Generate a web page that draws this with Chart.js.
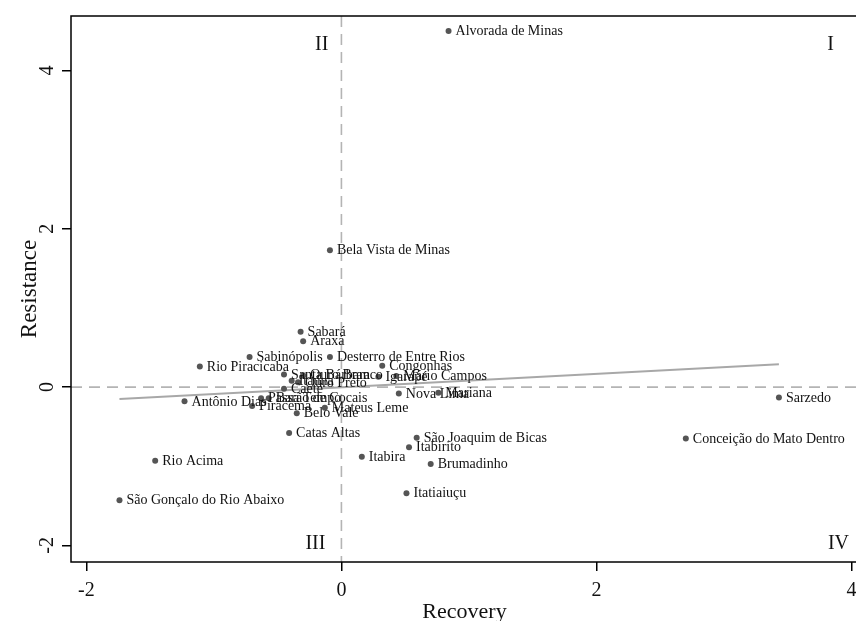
<!DOCTYPE html>
<html>
<head>
<meta charset="utf-8">
<script src="https://cdn.jsdelivr.net/npm/chart.js@4.4.1/dist/chart.umd.min.js"></script>
<style>
html,body{margin:0;padding:0;background:#fff;overflow:hidden;}
#wrap{width:870px;height:621px;}
</style>
</head>
<body>
<div id="wrap"><canvas id="c" width="870" height="621"></canvas></div>
<script>
const municipalities = [
  "Alvorada de Minas","Bela Vista de Minas","Sabará","Araxá","Sabinópolis",
  "Desterro de Entre Rios","Rio Piracicaba","Congonhas","Igarapé","Mário Campos",
  "Santa Bárbara","Ouro Branco","Ouro Preto","Itaúna","Caeté",
  "Nova Lima","Mariana","Antônio Dias","Passa Tempo","Barão de Cocais",
  "Piracema","Belo Vale","Mateus Leme","Catas Altas","São Joaquim de Bicas",
  "Itabirito","Itabira","Brumadinho","Itatiaiuçu","Sarzedo",
  "Conceição do Mato Dentro","Rio Acima","São Gonçalo do Rio Abaixo"
];
const recovery = [
  0.84,-0.09,-0.32,-0.30,-0.72,
  -0.09,-1.11,0.32,0.29,0.43,
  -0.45,-0.30,-0.34,-0.39,-0.45,
  0.45,0.76,-1.23,-0.63,-0.57,
  -0.70,-0.35,-0.13,-0.41,0.59,
  0.53,0.16,0.70,0.51,3.43,
  2.70,-1.46,-1.74
];
const resistance = [
  4.50,1.73,0.70,0.58,0.38,
  0.38,0.26,0.27,0.13,0.14,
  0.16,0.15,0.06,0.08,-0.02,
  -0.08,-0.07,-0.18,-0.14,-0.14,
  -0.24,-0.33,-0.26,-0.58,-0.64,
  -0.76,-0.88,-0.97,-1.34,-0.13,
  -0.65,-0.93,-1.43
];
const fitX = [-1.74, 3.43];
const fitY = [-0.15, 0.29];
const xTicks = [-2, 0, 2, 4];
const yTicks = [-2, 0, 2, 4];
const quadrants = ["I","II","III","IV"];

const serif = "'Liberation Serif','DejaVu Serif',serif";

const points = municipalities.map((n,i)=>({x:recovery[i], y:resistance[i], label:n}));
const fitLine = fitX.map((x,i)=>({x:x, y:fitY[i]}));

const decor = {
  id:'decor',
  beforeDatasetsDraw(chart){
    const {ctx, chartArea:a, scales:{x, y}} = chart;
    ctx.save();
    ctx.strokeStyle = '#b4b4b4';
    ctx.lineWidth = 1.6;
    ctx.setLineDash([11,7]);
    const x0 = x.getPixelForValue(0), y0 = y.getPixelForValue(0);
    ctx.beginPath(); ctx.moveTo(x0, a.top); ctx.lineTo(x0, a.bottom); ctx.stroke();
    ctx.beginPath(); ctx.moveTo(a.left, y0); ctx.lineTo(a.right, y0); ctx.stroke();
    ctx.restore();
  },
  afterDatasetsDraw(chart){
    const {ctx, chartArea:a, scales:{x, y}} = chart;
    ctx.save();
    // point labels
    ctx.font = "14px " + serif;
    ctx.fillStyle = '#111';
    ctx.textBaseline = 'middle';
    ctx.textAlign = 'left';
    points.forEach(p=>{
      ctx.fillText(p.label, x.getPixelForValue(p.x)+7, y.getPixelForValue(p.y)+0.5);
    });
    // quadrant labels
    ctx.font = "20px " + serif;
    ctx.textAlign = 'right';
    const x0 = x.getPixelForValue(0);
    ctx.fillText(quadrants[0], a.right - 24, a.top + 29);
    ctx.fillText(quadrants[1], x0 - 13, a.top + 29);
    ctx.fillText(quadrants[2], x0 - 16, a.bottom - 18);
    ctx.fillText(quadrants[3], a.right - 9, a.bottom - 18);
    // frame
    ctx.strokeStyle = '#000';
    ctx.lineWidth = 1.5;
    ctx.setLineDash([]);
    ctx.strokeRect(a.left, a.top, a.right - a.left, a.bottom - a.top);
    // rotated y tick labels
    ctx.font = "20px " + serif;
    ctx.textAlign = 'center';
    ctx.textBaseline = 'middle';
    y.ticks.forEach(t=>{
      const py = y.getPixelForValue(t.value);
      ctx.save();
      ctx.translate(48, py);
      ctx.rotate(-Math.PI/2);
      ctx.fillText(String(t.value), 0, 0);
      ctx.restore();
    });
    ctx.restore();
  }
};

new Chart(document.getElementById('c'), {
  type:'scatter',
  data:{
    datasets:[
      {
        data: fitLine,
        type:'line',
        showLine:true,
        borderColor:'#a8a8a8',
        borderWidth:2,
        pointRadius:0,
        fill:false,
        order:1
      },
      {
        data: points,
        backgroundColor:'#555',
        borderColor:'#555',
        pointRadius:3,
        borderWidth:0,
        order:0
      }
    ]
  },
  options:{
    responsive:false,
    animation:false,
    devicePixelRatio:1,
    layout:{padding:{top:12,right:12,left:16,bottom:0}},
    plugins:{legend:{display:false},tooltip:{enabled:false}},
    scales:{
      x:{
        type:'linear',
        min:-2.12, max:4.05,
        afterBuildTicks(s){ s.ticks = xTicks.map(v=>({value:v})); },
        afterFit(s){ s.height = 59; },
        grid:{display:true, drawOnChartArea:false, drawTicks:true, tickLength:9, color:'#000', lineWidth:1.5},
        border:{display:false},
        ticks:{color:'#111', font:{family:serif, size:20}, padding:8, maxRotation:0},
        title:{display:true, text:'Recovery', color:'#111', font:{family:serif, size:22}, padding:{top:0,bottom:-4}}
      },
      y:{
        type:'linear',
        min:-2.21, max:4.69,
        afterBuildTicks(s){ s.ticks = yTicks.map(v=>({value:v})); },
        afterFit(s){ s.width = 55; },
        grid:{display:true, drawOnChartArea:false, drawTicks:true, tickLength:9, color:'#000', lineWidth:1.5},
        border:{display:false},
        ticks:{color:'rgba(0,0,0,0)', font:{family:serif, size:20}, padding:4},
        title:{display:true, text:'Resistance', color:'#111', font:{family:serif, size:23}, padding:{top:0,bottom:4}}
      }
    }
  },
  plugins:[decor]
});
</script>
</body>
</html>
